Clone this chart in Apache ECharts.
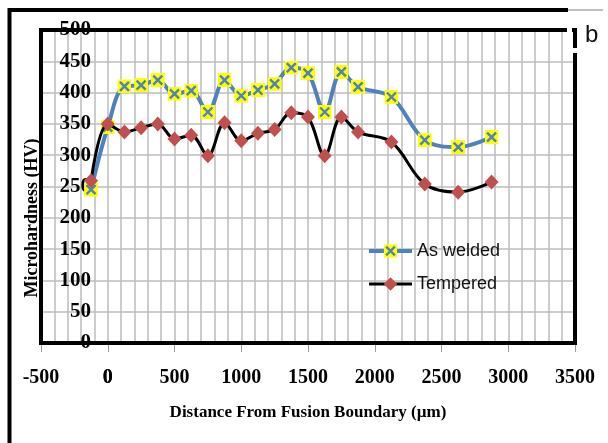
<!DOCTYPE html>
<html>
<head>
<meta charset="utf-8">
<script src="https://cdn.jsdelivr.net/npm/echarts@6/dist/echarts.min.js"></script>
<style>
html, body { margin: 0; padding: 0; background: #fff; }
#chart { width: 608px; height: 443px; }
</style>
</head>
<body>
<div id="chart"></div>
<script>
// distance from fusion boundary (µm)
var distances = [-125, 0, 125, 250, 375, 500, 625, 750, 875, 1000, 1125, 1250, 1375, 1500, 1625, 1750, 1875, 2125, 2375, 2625, 2875];
// microhardness (HV)
var asWelded = [245, 345, 410, 412, 420, 398, 403, 369, 420, 395, 404, 414, 440, 431, 369, 433, 409, 393, 324, 313, 329];
var tempered = [259, 350, 337, 344, 350, 326, 332, 299, 352, 323, 335, 341, 368, 361, 299, 361, 337, 321, 254, 241, 257];
var seriesNames = ["As welded", "Tempered"];

function pairs(xs, ys) {
    return xs.map(function(x, i) { return [x, ys[i]]; });
}

// yellow square with a blue cross (Excel marker)
var crossMark = "image://data:image/svg+xml;charset=utf-8," + encodeURIComponent(
    '<svg xmlns="http://www.w3.org/2000/svg" width="14" height="14" viewBox="0 0 14 14">' +
    '<rect width="14" height="14" fill="#FFFF00"/>' +
    '<path d="M2.5 2.5L11.5 11.5M11.5 2.5L2.5 11.5" stroke="#4F81BD" stroke-width="2.4"/></svg>'
);

var gridColor = "#BDBDBD";
var serif = "'Times New Roman', 'Liberation Serif', serif";

var myChart = echarts.init(document.getElementById("chart"));
myChart.setOption({
    backgroundColor: "#fff",
    animation: false,
    grid: {
        left: 41,
        right: 33,
        top: 30,
        bottom: 100,
        show: true,
        z: 5,
        backgroundColor: "transparent",
        borderColor: "#000",
        borderWidth: 4
    },
    legend: {
        orient: "vertical",
        left: 367,
        top: 242,
        padding: 0,
        itemWidth: 43,
        itemHeight: 17,
        itemGap: 15,
        data: [
            { name: seriesNames[0], lineStyle: { width: 4, color: "#4F81BD" } },
            { name: seriesNames[1], lineStyle: { width: 3, color: "#000" } }
        ],
        textStyle: {
            fontFamily: "'Liberation Sans', Arial, sans-serif",
            fontSize: 18,
            color: "#111"
        }
    },
    xAxis: {
        type: "value",
        min: -500,
        max: 3500,
        interval: 500,
        name: "Distance From Fusion Boundary (µm)",
        nameLocation: "middle",
        nameGap: 61,
        nameTextStyle: {
            fontFamily: serif,
            fontWeight: "bold",
            fontSize: 17,
            color: "#000"
        },
        axisLine: { show: false, onZero: false },
        axisTick: { show: true, length: 9, lineStyle: { color: "#999", width: 1 } },
        axisLabel: {
            margin: 25,
            fontFamily: serif,
            fontWeight: "bold",
            fontSize: 20,
            color: "#000",
            formatter: function(v) { return String(v); }
        },
        splitLine: {
            show: true,
            showMinLine: false,
            showMaxLine: false,
            lineStyle: { color: gridColor, width: 1.5 }
        },
        minorTick: { show: false, splitNumber: 5 },
        minorSplitLine: { show: true, lineStyle: { color: gridColor, width: 1.5 } }
    },
    yAxis: {
        type: "value",
        min: 0,
        max: 500,
        interval: 50,
        axisLine: { show: false, onZero: false },
        axisTick: { show: false },
        axisLabel: {
            // labels sit inside the plot, just left of distance 0
            margin: -50,
            fontFamily: serif,
            fontWeight: "bold",
            fontSize: 21,
            color: "#000",
            formatter: function(v) { return String(v); }
        },
        splitLine: {
            show: true,
            showMinLine: false,
            showMaxLine: false,
            lineStyle: { color: gridColor, width: 1.5 }
        }
    },
    series: [
        {
            name: seriesNames[0],
            type: "line",
            data: pairs(distances, asWelded),
            smooth: 0.35,
            symbol: crossMark,
            symbolSize: 14,
            lineStyle: { color: "#4F81BD", width: 4 },
            itemStyle: { color: "#4F81BD" },
            z: 2
        },
        {
            name: seriesNames[1],
            type: "line",
            data: pairs(distances, tempered),
            smooth: 0.35,
            symbol: "diamond",
            symbolSize: [14, 15],
            lineStyle: { color: "#000", width: 3 },
            itemStyle: { color: "#C0504D" },
            z: 3
        }
    ],
    graphic: [
        // outer frame
        {
            type: "polyline",
            z: 20,
            shape: { points: [[9.5, 443], [9.5, 10], [568, 10]] },
            style: { stroke: "#000", lineWidth: 4, fill: null }
        },
        {
            type: "line",
            z: 20,
            shape: { x1: 568, y1: 10, x2: 603, y2: 10 },
            style: { stroke: "#aaa", lineWidth: 1.5 }
        },
        // gaps left by the label box
        {
            type: "rect",
            z: 20,
            shape: { x: 567, y: 26, width: 5, height: 8 },
            style: { fill: "#fff" }
        },
        {
            type: "rect",
            z: 20,
            shape: { x: 571, y: 48, width: 8, height: 5 },
            style: { fill: "#fff" }
        },
        {
            type: "text",
            z: 20,
            left: 585,
            top: 23,
            style: {
                text: "b",
                font: "24px 'Liberation Sans', Arial, sans-serif",
                fill: "#111"
            }
        },
        // the x label "0" gets dropped by the axis, put it back
        {
            type: "text",
            z: 20,
            x: 107.75,
            y: 368,
            style: {
                text: "0",
                font: "bold 20px " + serif,
                fill: "#000",
                align: "center",
                verticalAlign: "top"
            }
        },
        {
            type: "text",
            z: 20,
            x: 32,
            y: 218,
            rotation: Math.PI / 2,
            style: {
                text: "Microhardness (HV)",
                font: "bold 18px " + serif,
                fill: "#000",
                align: "center",
                verticalAlign: "middle"
            }
        }
    ]
});
</script>
</body>
</html>
